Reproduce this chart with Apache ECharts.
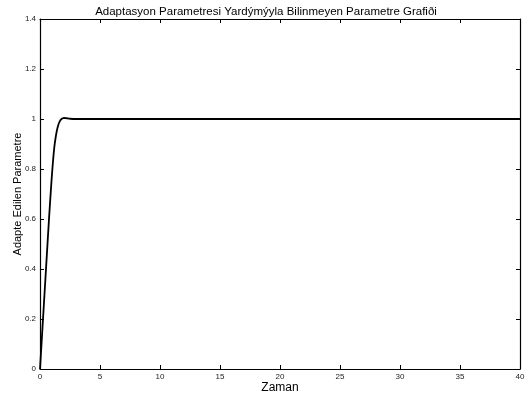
<!DOCTYPE html>
<html>
<head>
<meta charset="utf-8">
<script src="https://cdn.jsdelivr.net/npm/echarts@6/dist/echarts.min.js"></script>
<style>
  html, body { margin: 0; padding: 0; background: #fff; }
  #chart { width: 532px; height: 400px; }
</style>
</head>
<body>
<div id="chart"></div>
<script>
// Values (time, adapted parameter)
const timeValues = [0, 0.25, 0.5, 0.75, 0.9, 1.0, 1.1, 1.2, 1.3, 1.4, 1.5, 1.6, 1.7, 1.8, 1.9, 2.0, 2.2, 2.5, 3.0, 5.0, 10, 20, 30, 40];
const paramValues = [0, 0.2, 0.4, 0.6, 0.71, 0.78, 0.84, 0.89, 0.925, 0.952, 0.972, 0.986, 0.995, 1.0, 1.003, 1.004, 1.003, 1.001, 1.0, 1.0, 1.0, 1.0, 1.0, 1.0];

const titleText = 'Adaptasyon Parametresi Yardýmýyla Bilinmeyen Parametre Grafiði';
const xName = 'Zaman';
const yName = 'Adapte Edilen Parametre';

const font = 'Liberation Sans, Arial, sans-serif';
const seriesData = timeValues.map((t, i) => [t, paramValues[i]]);

const frameAxis = (show) => ({
  axisLine: { show: true, onZero: false, lineStyle: { color: '#000', width: 1.2 } },
  axisTick: { show: true, inside: true, length: 4, lineStyle: { color: '#000' } },
  splitLine: { show: false },
  axisLabel: show
    ? { show: true, color: '#222', fontSize: 8, fontFamily: font, margin: 4 }
    : { show: false }
});

const chart = echarts.init(document.getElementById('chart'));
chart.setOption({
  animation: false,
  backgroundColor: '#fff',
  title: {
    text: titleText,
    left: 'center',
    top: 1,
    textStyle: { fontSize: 11.5, fontWeight: 'normal', color: '#000', fontFamily: font }
  },
  grid: { left: 40, right: 12, top: 19, bottom: 31, outerBoundsMode: 'none', containLabel: false },
  xAxis: [
    Object.assign({
      type: 'value', min: 0, max: 40, interval: 5, position: 'bottom',
      name: xName, nameLocation: 'middle', nameGap: 13, nameMoveOverlap: false,
      nameTextStyle: { fontSize: 12, color: '#000', fontFamily: font, verticalAlign: 'top' }
    }, frameAxis(true)),
    Object.assign({ type: 'value', min: 0, max: 40, interval: 5, position: 'top' }, frameAxis(false))
  ],
  yAxis: [
    Object.assign({
      type: 'value', min: 0, max: 1.4, interval: 0.2, position: 'left',
      name: yName, nameLocation: 'middle', nameGap: 17, nameMoveOverlap: false,
      nameTextStyle: { fontSize: 11, color: '#000', fontFamily: font }
    }, frameAxis(true)),
    Object.assign({ type: 'value', min: 0, max: 1.4, interval: 0.2, position: 'right' }, frameAxis(false))
  ],
  series: [{
    type: 'line',
    data: seriesData,
    xAxisIndex: 0,
    yAxisIndex: 0,
    showSymbol: false,
    smooth: 0.3,
    lineStyle: { color: '#000', width: 1.8 }
  }]
});
</script>
</body>
</html>
